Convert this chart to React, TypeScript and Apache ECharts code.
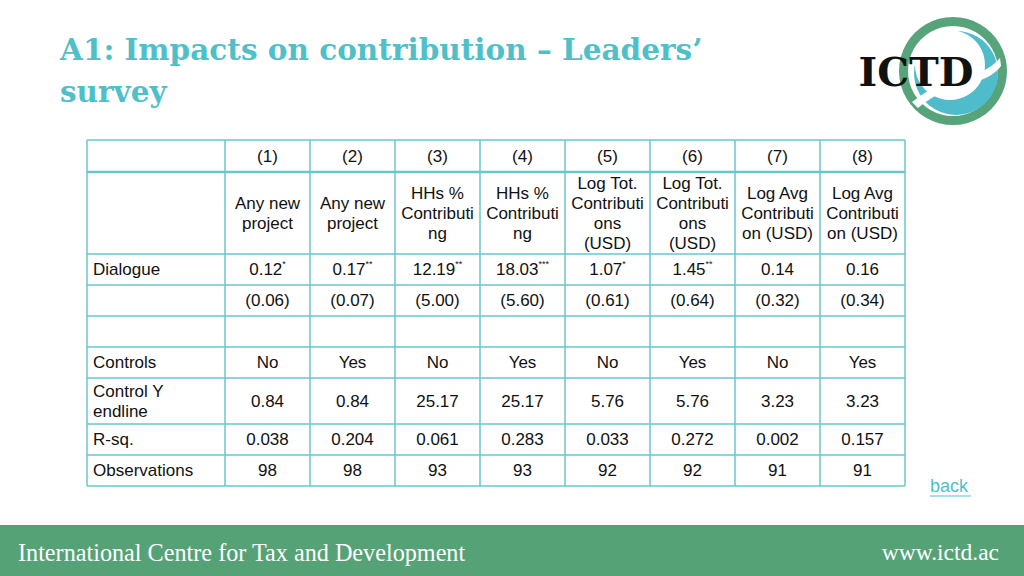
import React, { useEffect, useRef } from "react";
import * as echarts from "echarts";

const title1 = "A1: Impacts on contribution \u2013 Leaders\u2019";
const title2 = "survey";
const footerLeft = "International Centre for Tax and Development";
const footerRight = "www.ictd.ac";
const colNums = ["(1)", "(2)", "(3)", "(4)", "(5)", "(6)", "(7)", "(8)"];
const depVars = [
  "Any new\nproject",
  "Any new\nproject",
  "HHs %\nContributi\nng",
  "HHs %\nContributi\nng",
  "Log Tot.\nContributi\nons\n(USD)",
  "Log Tot.\nContributi\nons\n(USD)",
  "Log Avg\nContributi\non (USD)",
  "Log Avg\nContributi\non (USD)",
];
const coefs = ["0.12", "0.17", "12.19", "18.03", "1.07", "1.45", "0.14", "0.16"];
const stars = ["*", "**", "**", "***", "*", "**", "", ""];
const ses = ["(0.06)", "(0.07)", "(5.00)", "(5.60)", "(0.61)", "(0.64)", "(0.32)", "(0.34)"];
const controls = ["No", "Yes", "No", "Yes", "No", "Yes", "No", "Yes"];
const controlY = ["0.84", "0.84", "25.17", "25.17", "5.76", "5.76", "3.23", "3.23"];
const rsq = ["0.038", "0.204", "0.061", "0.283", "0.033", "0.272", "0.002", "0.157"];
const obs = ["98", "98", "93", "93", "92", "92", "91", "91"];
const rowLabels = ["", "", "Dialogue", "", "", "Controls", "Control Y\nendline", "R-sq.", "Observations"];

echarts.graphic.registerShape(
  "ictdwave",
  echarts.graphic.extendPath(
    "M 912 102 C 930 88, 950 78, 972 74 C 985 72, 995 64, 1000 58 L 1001 66 C 995 74, 985 80, 972 82 C 952 86, 932 96, 918 108 Z",
    {}
  ) as any
);

export default function App() {
  const ref = useRef<HTMLDivElement>(null);
  useEffect(() => {
    if (!ref.current) return;
    const chart = echarts.init(ref.current, null, { renderer: "svg" });
    const lineColor = "#6ac6cd";
    const font = "Liberation Sans, Arial, sans-serif";
    const fs = 17;
    const colX = [87, 225, 310, 395, 480, 565, 650, 735, 820, 905];
    const rowY = [140, 172, 254, 285, 316, 347, 378, 424, 455, 486];
    const els: any[] = [];

    // title
    els.push({
      type: "text",
      x: 60,
      y: 34,
      style: { text: title1, fill: "#4fc0c9", font: "bold 29.5px 'DejaVu Serif', serif" },
    });
    els.push({
      type: "text",
      x: 60,
      y: 76,
      style: { text: title2, fill: "#4fc0c9", font: "bold 29.5px 'DejaVu Serif', serif" },
    });

    // logo
    els.push({ type: "circle", shape: { cx: 953, cy: 71, r: 54 }, style: { fill: "#58a47a" } });
    els.push({ type: "circle", shape: { cx: 953, cy: 71, r: 45 }, style: { fill: "#ffffff" } });
    els.push({ type: "circle", shape: { cx: 956, cy: 73, r: 42 }, style: { fill: "#4fbccb" } });
    els.push({ type: "circle", shape: { cx: 950, cy: 65, r: 35 }, style: { fill: "#ffffff" } });
    els.push({ type: "ictdwave", x: 0, y: 0, style: { fill: "#ffffff" } });
    els.push({
      type: "text",
      x: 916,
      y: 71,
      style: {
        text: "ICTD",
        fill: "#111111",
        font: "bold 40px 'DejaVu Serif', serif",
        align: "center",
        verticalAlign: "middle",
      },
    });

    // table lines
    for (let i = 0; i < rowY.length; i++) {
      els.push({
        type: "line",
        shape: { x1: colX[0], y1: rowY[i], x2: colX[colX.length - 1], y2: rowY[i] },
        style: { stroke: lineColor, lineWidth: i === 1 ? 2.5 : 1.5 },
      });
    }
    for (let j = 0; j < colX.length; j++) {
      els.push({
        type: "line",
        shape: { x1: colX[j], y1: rowY[0], x2: colX[j], y2: rowY[rowY.length - 1] },
        style: { stroke: lineColor, lineWidth: 1.5 },
      });
    }

    const cell = (r: number, c: number, text: string) => {
      els.push({
        type: "text",
        x: (colX[c + 1] + colX[c + 2]) / 2,
        y: (rowY[r] + rowY[r + 1]) / 2,
        style: {
          text,
          fill: "#111111",
          font: `${fs}px ${font}`,
          align: "center",
          verticalAlign: "middle",
          lineHeight: 20,
        },
      });
    };

    for (let c = 0; c < 8; c++) {
      cell(0, c, colNums[c]);
      cell(1, c, depVars[c]);
      if (stars[c]) {
        els.push({
          type: "text",
          x: (colX[c + 1] + colX[c + 2]) / 2,
          y: (rowY[2] + rowY[3]) / 2,
          style: {
            text: `{a|${coefs[c]}}{s|${stars[c]}}`,
            align: "center",
            verticalAlign: "middle",
            rich: {
              a: { font: `${fs}px ${font}`, fill: "#111111", lineHeight: 20 },
              s: { font: `9px ${font}`, fill: "#111111", verticalAlign: "top", lineHeight: 20, padding: [0, 0, 8, 0] },
            },
          },
        });
      } else {
        cell(2, c, coefs[c]);
      }
      cell(3, c, ses[c]);
      cell(5, c, controls[c]);
      cell(6, c, controlY[c]);
      cell(7, c, rsq[c]);
      cell(8, c, obs[c]);
    }
    for (let r = 0; r < rowLabels.length; r++) {
      if (!rowLabels[r]) continue;
      els.push({
        type: "text",
        x: 93,
        y: (rowY[r] + rowY[r + 1]) / 2,
        style: {
          text: rowLabels[r],
          fill: "#111111",
          font: `${fs}px ${font}`,
          align: "left",
          verticalAlign: "middle",
          lineHeight: 20,
        },
      });
    }

    // back link
    els.push({
      type: "text",
      x: 930,
      y: 486,
      style: { text: "back", fill: "#4fc0c9", font: `18px ${font}`, align: "left", verticalAlign: "middle" },
    });
    els.push({
      type: "line",
      shape: { x1: 930, y1: 496, x2: 971, y2: 496 },
      style: { stroke: "#4fc0c9", lineWidth: 1 },
    });

    // footer
    els.push({ type: "rect", shape: { x: 0, y: 525, width: 1024, height: 51 }, style: { fill: "#55a277" } });
    els.push({
      type: "text",
      x: 18,
      y: 552,
      style: {
        text: footerLeft,
        fill: "#ffffff",
        font: "24.2px 'Liberation Serif', serif",
        verticalAlign: "middle",
      },
    });
    els.push({
      type: "text",
      x: 999,
      y: 552,
      style: {
        text: footerRight,
        fill: "#ffffff",
        font: "23.5px 'Liberation Serif', serif",
        align: "right",
        verticalAlign: "middle",
      },
    });

    chart.setOption({ animation: false, graphic: { elements: els } });
    return () => chart.dispose();
  }, []);
  return <div ref={ref} style={{ position: "fixed", left: 0, top: 0, width: 1024, height: 576, background: "#fff" }} />;
}
